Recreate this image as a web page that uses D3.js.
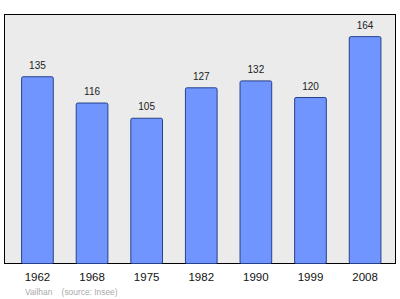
<!DOCTYPE html>
<html lang="fr">
<head>
	<meta charset="UTF-8">
	<title>Vailhan</title>
	<script src="https://d3js.org/d3.v7.min.js"></script>
	<style>
		body { margin: 0; background: #fff; }
		text { font-family: "Liberation Sans", Arial, sans-serif; }
	</style>
</head>
<body>
	<div id="main"></div>
<script>
	// population par recensement
	var years = ["1962", "1968", "1975", "1982", "1990", "1999", "2008"];
	var population = [135, 116, 105, 127, 132, 120, 164];
	var yMax = 180;

	var width = 400, height = 299;
	var frame = {left: 4.5, top: 14.5, right: 395.5, bottom: 263.5};

	var svg = d3.select("#main")
		.append("svg")
		.attr("width", width)
		.attr("height", height);

	//x: one band per census
	var x = d3.scaleBand()
		.domain(years)
		.range([frame.left, frame.right])
		.paddingInner(0.42)
		.paddingOuter(0.29)
		.align(0.54);

	var y = d3.scaleLinear()
		.domain([0, yMax])
		.range([frame.bottom, frame.top]);

	// grey panel
	svg.append("rect")
		.attr("x", frame.left)
		.attr("y", frame.top)
		.attr("width", frame.right - frame.left)
		.attr("height", frame.bottom - frame.top)
		.attr("fill", "#ebebeb")
		.attr("stroke", "#000")
		.attr("stroke-width", 1);

	var data = years.map(function(d, i){ return {year: d, value: population[i]}; });

	svg.selectAll("rect.bar")
		.data(data)
		.enter()
		.append("rect")
		.attr("class", "bar")
		.attr("x", function(d){ return x(d.year); })
		.attr("y", function(d){ return y(d.value); })
		.attr("width", x.bandwidth())
		.attr("height", function(d){ return frame.bottom - y(d.value); })
		.attr("rx", 1.5)
		.attr("fill", "#7095ff")
		.attr("stroke", "#27408b")
		.attr("stroke-width", 1);

	// value labels above bars
	svg.selectAll("text.val")
		.data(data)
		.enter()
		.append("text")
		.attr("class", "val")
		.attr("x", function(d){ return x(d.year) + x.bandwidth() / 2; })
		.attr("y", function(d){ return y(d.value) - 8; })
		.attr("text-anchor", "middle")
		.attr("font-size", "10px")
		.attr("fill", "#222")
		.text(function(d){ return d.value; });

	// x axis labels
	var xAxis = svg.append("g")
		.attr("transform", "translate(0," + frame.bottom + ")")
		.call(d3.axisBottom(x).tickSize(0).tickPadding(9));
	xAxis.select(".domain").remove();
	xAxis.selectAll("text")
		.attr("font-size", "11.5px")
		.attr("font-family", "Liberation Sans, Arial, sans-serif")
		.attr("fill", "#111");

	svg.append("text")
		.attr("x", 25)
		.attr("y", 295)
		.attr("font-size", "8.4px")
		.attr("fill", "#aaa")
		.attr("xml:space", "preserve")
		.text("Vailhan    (source: Insee)");
</script>
</body>
</html>
